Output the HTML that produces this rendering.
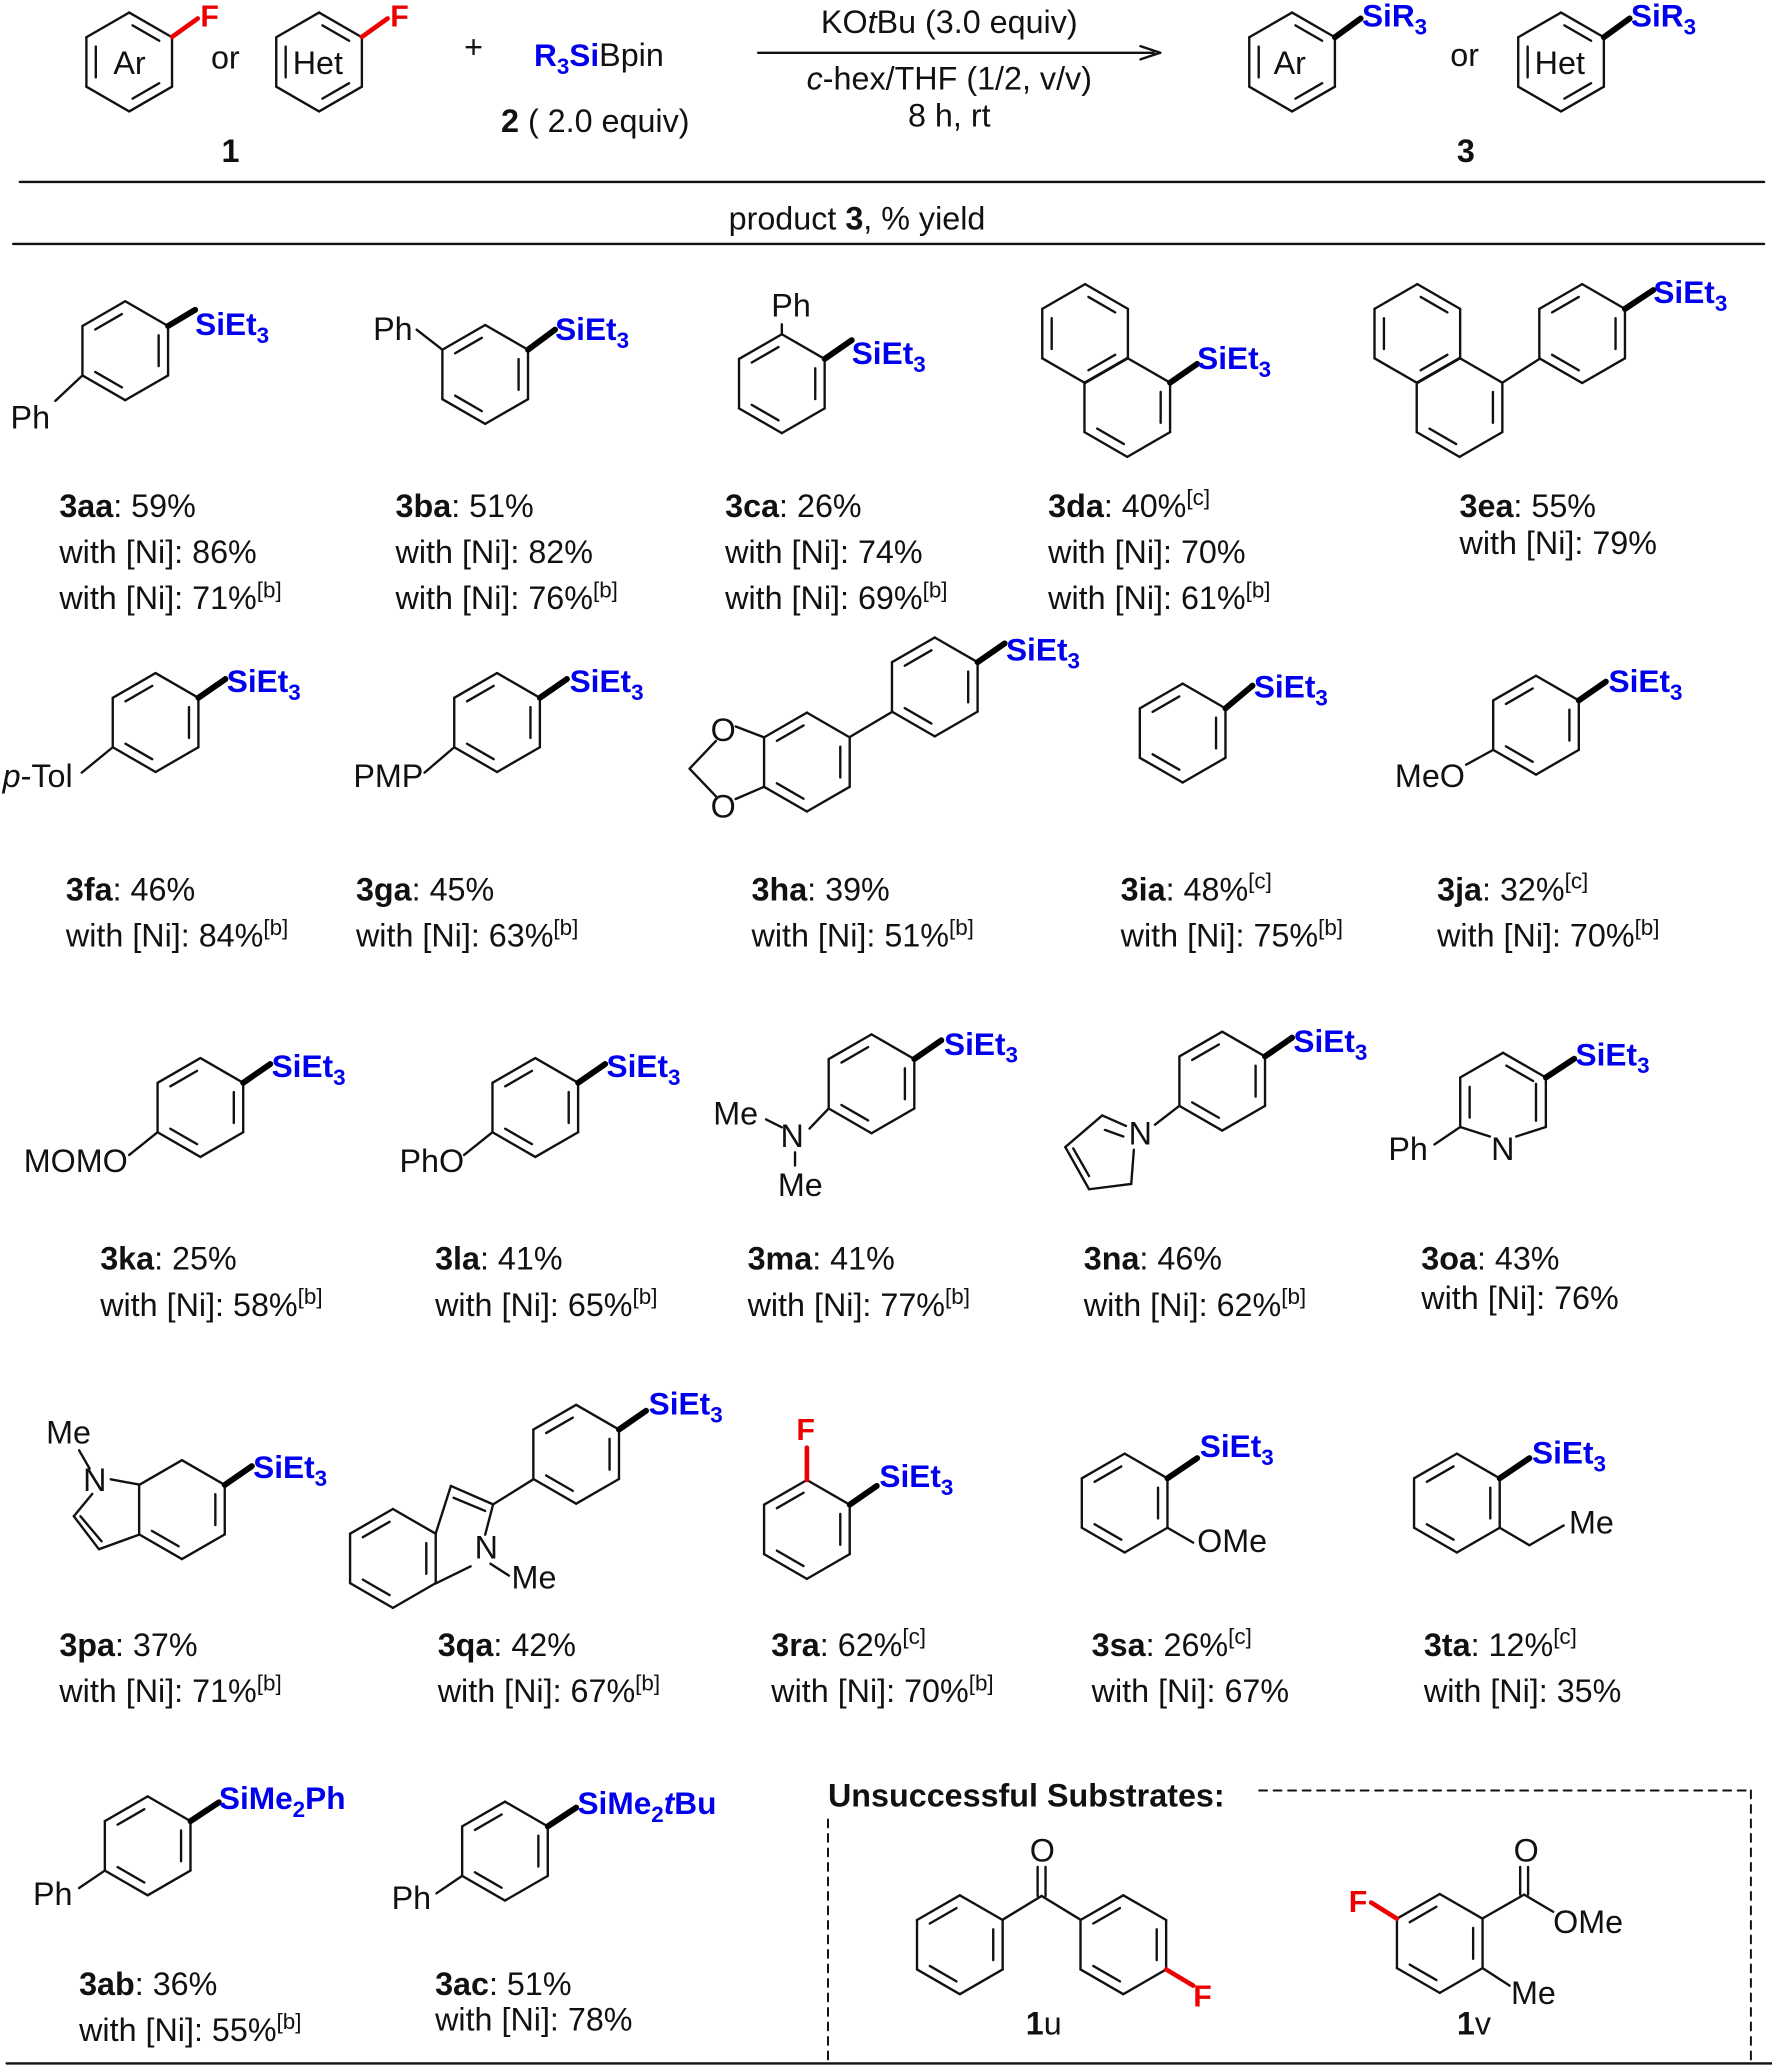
<!DOCTYPE html>
<html><head><meta charset="utf-8"><style>
html,body{margin:0;padding:0;background:#fff}
svg{display:block}
text{font-family:"Liberation Sans",Arial,sans-serif;font-size:24.5px;fill:#111}
.b{font-weight:bold}
.si{fill:#0000ee;font-weight:bold;font-size:24px}
.f{fill:#e00;font-weight:bold;font-size:23px}
.s{font-size:17px}
</style></head><body>
<svg id="svg" width="1772" height="2070" viewBox="0 0 1344 1570" xmlns="http://www.w3.org/2000/svg">
<g id="g" stroke="#111" stroke-width="1.8" fill="none" stroke-linecap="round"></g>
<!-- header -->
<text x="86" y="56">Ar</text>
<text x="160" y="52">or</text>
<text x="222" y="56">Het</text>
<text x="152" y="20" class="f">F</text>
<text x="296" y="20" class="f">F</text>
<text x="352" y="44">+</text>
<text x="405" y="50"><tspan class="si" style="font-size:24px">R<tspan dy="6" class="s">3</tspan><tspan dy="-6">Si</tspan></tspan>Bpin</text>
<text x="168" y="123" class="b">1</text>
<text x="380" y="100"><tspan class="b">2</tspan> ( 2.0 equiv)</text>
<text x="720" y="25" text-anchor="middle">KO<tspan font-style="italic">t</tspan>Bu (3.0 equiv)</text>
<text x="720" y="68" text-anchor="middle"><tspan font-style="italic">c</tspan>-hex/THF (1/2, v/v)</text>
<text x="720" y="96" text-anchor="middle">8 h,  rt</text>
<text x="966" y="56">Ar</text>
<text x="1100" y="50">or</text>
<text x="1164" y="56">Het</text>
<text x="1033" y="20" class="si">SiR<tspan dy="6" class="s">3</tspan></text>
<text x="1237" y="20" class="si">SiR<tspan dy="6" class="s">3</tspan></text>
<text x="1105" y="123" class="b">3</text>
<text x="650" y="174" text-anchor="middle">product <tspan class="b">3</tspan>, % yield</text>

<!-- row1 -->
<text x="148" y="254" class="si">SiEt<tspan dy="6" class="s">3</tspan></text>
<text x="8" y="325">Ph</text>
<text x="45" y="392"><tspan class="b">3aa</tspan>: 59%</text>
<text x="45" y="427">with [Ni]: 86%</text>
<text x="45" y="462">with [Ni]: 71%<tspan dy="-9" class="s">[b]</tspan></text>

<text x="421" y="258" class="si">SiEt<tspan dy="6" class="s">3</tspan></text>
<text x="283" y="258">Ph</text>
<text x="300" y="392"><tspan class="b">3ba</tspan>: 51%</text>
<text x="300" y="427">with [Ni]: 82%</text>
<text x="300" y="462">with [Ni]: 76%<tspan dy="-9" class="s">[b]</tspan></text>

<text x="585" y="240">Ph</text>
<text x="646" y="276" class="si">SiEt<tspan dy="6" class="s">3</tspan></text>
<text x="550" y="392"><tspan class="b">3ca</tspan>: 26%</text>
<text x="550" y="427">with [Ni]: 74%</text>
<text x="550" y="462">with [Ni]: 69%<tspan dy="-9" class="s">[b]</tspan></text>

<text x="908" y="280" class="si">SiEt<tspan dy="6" class="s">3</tspan></text>
<text x="795" y="392"><tspan class="b">3da</tspan>: 40%<tspan dy="-9" class="s">[c]</tspan></text>
<text x="795" y="427">with [Ni]: 70%</text>
<text x="795" y="462">with [Ni]: 61%<tspan dy="-9" class="s">[b]</tspan></text>

<text x="1254" y="230" class="si">SiEt<tspan dy="6" class="s">3</tspan></text>
<text x="1107" y="392"><tspan class="b">3ea</tspan>: 55%</text>
<text x="1107" y="420">with [Ni]: 79%</text>

<!-- row2 -->
<text x="172" y="525" class="si">SiEt<tspan dy="6" class="s">3</tspan></text>
<text x="2" y="597"><tspan font-style="italic">p</tspan>-Tol</text>
<text x="50" y="683"><tspan class="b">3fa</tspan>: 46%</text>
<text x="50" y="718">with [Ni]: 84%<tspan dy="-9" class="s">[b]</tspan></text>

<text x="432" y="525" class="si">SiEt<tspan dy="6" class="s">3</tspan></text>
<text x="268" y="597">PMP</text>
<text x="270" y="683"><tspan class="b">3ga</tspan>: 45%</text>
<text x="270" y="718">with [Ni]: 63%<tspan dy="-9" class="s">[b]</tspan></text>

<text x="763" y="501" class="si">SiEt<tspan dy="6" class="s">3</tspan></text>
<text x="539" y="562">O</text>
<text x="539" y="620">O</text>
<text x="570" y="683"><tspan class="b">3ha</tspan>: 39%</text>
<text x="570" y="718">with [Ni]: 51%<tspan dy="-9" class="s">[b]</tspan></text>

<text x="951" y="529" class="si">SiEt<tspan dy="6" class="s">3</tspan></text>
<text x="850" y="683"><tspan class="b">3ia</tspan>: 48%<tspan dy="-9" class="s">[c]</tspan></text>
<text x="850" y="718">with [Ni]: 75%<tspan dy="-9" class="s">[b]</tspan></text>

<text x="1220" y="525" class="si">SiEt<tspan dy="6" class="s">3</tspan></text>
<text x="1058" y="597">MeO</text>
<text x="1090" y="683"><tspan class="b">3ja</tspan>: 32%<tspan dy="-9" class="s">[c]</tspan></text>
<text x="1090" y="718">with [Ni]: 70%<tspan dy="-9" class="s">[b]</tspan></text>

<!-- row3 -->
<text x="206" y="817" class="si">SiEt<tspan dy="6" class="s">3</tspan></text>
<text x="18" y="889">MOMO</text>
<text x="76" y="963"><tspan class="b">3ka</tspan>: 25%</text>
<text x="76" y="998">with [Ni]: 58%<tspan dy="-9" class="s">[b]</tspan></text>

<text x="460" y="817" class="si">SiEt<tspan dy="6" class="s">3</tspan></text>
<text x="303" y="889">PhO</text>
<text x="330" y="963"><tspan class="b">3la</tspan>: 41%</text>
<text x="330" y="998">with [Ni]: 65%<tspan dy="-9" class="s">[b]</tspan></text>

<text x="716" y="800" class="si">SiEt<tspan dy="6" class="s">3</tspan></text>
<text x="541" y="853">Me</text>
<text x="592" y="870">N</text>
<text x="590" y="907">Me</text>
<text x="567" y="963"><tspan class="b">3ma</tspan>: 41%</text>
<text x="567" y="998">with [Ni]: 77%<tspan dy="-9" class="s">[b]</tspan></text>

<text x="981" y="798" class="si">SiEt<tspan dy="6" class="s">3</tspan></text>
<text x="856" y="868">N</text>
<text x="822" y="963"><tspan class="b">3na</tspan>: 46%</text>
<text x="822" y="998">with [Ni]: 62%<tspan dy="-9" class="s">[b]</tspan></text>

<text x="1195" y="808" class="si">SiEt<tspan dy="6" class="s">3</tspan></text>
<text x="1131" y="880">N</text>
<text x="1053" y="880">Ph</text>
<text x="1078" y="963"><tspan class="b">3oa</tspan>: 43%</text>
<text x="1078" y="993">with [Ni]: 76%</text>

<!-- row4 -->
<text x="35" y="1095">Me</text>
<text x="63" y="1131">N</text>
<text x="192" y="1121" class="si">SiEt<tspan dy="6" class="s">3</tspan></text>
<text x="45" y="1256"><tspan class="b">3pa</tspan>: 37%</text>
<text x="45" y="1291">with [Ni]: 71%<tspan dy="-9" class="s">[b]</tspan></text>

<text x="360" y="1182">N</text>
<text x="388" y="1205">Me</text>
<text x="492" y="1073" class="si">SiEt<tspan dy="6" class="s">3</tspan></text>
<text x="332" y="1256"><tspan class="b">3qa</tspan>: 42%</text>
<text x="332" y="1291">with [Ni]: 67%<tspan dy="-9" class="s">[b]</tspan></text>

<text x="604" y="1092" class="f">F</text>
<text x="667" y="1128" class="si">SiEt<tspan dy="6" class="s">3</tspan></text>
<text x="585" y="1256"><tspan class="b">3ra</tspan>: 62%<tspan dy="-9" class="s">[c]</tspan></text>
<text x="585" y="1291">with [Ni]: 70%<tspan dy="-9" class="s">[b]</tspan></text>

<text x="910" y="1105" class="si">SiEt<tspan dy="6" class="s">3</tspan></text>
<text x="908" y="1177">OMe</text>
<text x="828" y="1256"><tspan class="b">3sa</tspan>: 26%<tspan dy="-9" class="s">[c]</tspan></text>
<text x="828" y="1291">with [Ni]: 67%</text>

<text x="1162" y="1110" class="si">SiEt<tspan dy="6" class="s">3</tspan></text>
<text x="1190" y="1163">Me</text>
<text x="1080" y="1256"><tspan class="b">3ta</tspan>: 12%<tspan dy="-9" class="s">[c]</tspan></text>
<text x="1080" y="1291">with [Ni]: 35%</text>

<!-- row5 -->
<text x="166" y="1372" class="si">SiMe<tspan dy="6" class="s">2</tspan><tspan dy="-6">Ph</tspan></text>
<text x="25" y="1445">Ph</text>
<text x="60" y="1513"><tspan class="b">3ab</tspan>: 36%</text>
<text x="60" y="1548">with [Ni]: 55%<tspan dy="-9" class="s">[b]</tspan></text>

<text x="438" y="1376" class="si">SiMe<tspan dy="6" class="s">2</tspan><tspan dy="-6" font-style="italic">t</tspan>Bu</text>
<text x="297" y="1448">Ph</text>
<text x="330" y="1513"><tspan class="b">3ac</tspan>: 51%</text>
<text x="330" y="1540">with [Ni]: 78%</text>

<text x="628" y="1370" class="b">Unsuccessful Substrates:</text>
<text x="781" y="1412">O</text>
<text x="905" y="1522" class="f">F</text>
<text x="778" y="1543"><tspan class="b">1</tspan>u</text>
<text x="1148" y="1412">O</text>
<text x="1178" y="1466">OMe</text>
<text x="1146" y="1520">Me</text>
<text x="1023" y="1450" class="f">F</text>
<text x="1105" y="1543"><tspan class="b">1</tspan>v</text>
</svg>
<script>
var g=document.getElementById('g'),NS='http://www.w3.org/2000/svg',R=37.5;
function L(x1,y1,x2,y2,c,w,d){var e=document.createElementNS(NS,'line');e.setAttribute('x1',x1);e.setAttribute('y1',y1);e.setAttribute('x2',x2);e.setAttribute('y2',y2);if(c)e.setAttribute('stroke',c);if(w)e.setAttribute('stroke-width',w);if(d)e.setAttribute('stroke-dasharray',d);g.appendChild(e);}
function V(cx,cy,i){var a=(-90+60*i)*Math.PI/180;return [cx+R*Math.cos(a),cy+R*Math.sin(a)];}
function ring(cx,cy,dbl,skip){dbl=dbl||[1,3,5];skip=skip||[];
 for(var i=0;i<6;i++){if(skip.indexOf(i)>=0)continue;var a=V(cx,cy,i),b=V(cx,cy,(i+1)%6);L(a[0],a[1],b[0],b[1]);}
 dbl.forEach(function(i){var a=V(cx,cy,i),b=V(cx,cy,(i+1)%6);var k=0.78;
  var ax=cx+(a[0]-cx)*k,ay=cy+(a[1]-cy)*k,bx=cx+(b[0]-cx)*k,by=cy+(b[1]-cy)*k;
  var mx=(ax+bx)/2,my=(ay+by)/2;var s=0.8;L(mx+(ax-mx)*s,my+(ay-my)*s,mx+(bx-mx)*s,my+(by-my)*s);});}
function si(cx,cy,i,x,y){var a=V(cx,cy,i);L(a[0],a[1],x,y,'#000',4.5);}
function sub(cx,cy,i,x,y){var a=V(cx,cy,i);L(a[0],a[1],x,y);}
function poly(p,c){for(var i=0;i<p.length-1;i++)L(p[i][0],p[i][1],p[i+1][0],p[i+1][1],c);}
// header
ring(98,47,[0,2,4]);L(130.5,28,150,14,'#e00',3.5);
ring(242,47,[0,2,4]);L(274.5,28,294,14,'#e00',3.5);
L(575,40,875,40);L(865,35,880,40);L(865,45,880,40);
ring(980,47,[0,2,4]);si(980,47,1,1032,14);
ring(1184,47,[0,2,4]);si(1184,47,1,1236,14);
L(15,138,1338,138);L(10,185,1338,185);L(5,1565,1344,1565);
// row1
ring(95,266);si(95,266,1,148,235);sub(95,266,4,42,304);
ring(368,284);si(368,284,1,421,250);sub(368,284,5,316,250);
ring(593,291);si(593,291,1,646,258);sub(593,291,0,593,246);
ring(823,253,[0,4,2]);ring(855,309,[1,3]);si(855,309,1,908,276);
ring(1075,253,[0,4,2]);ring(1107,309,[1,3]);sub(1107,309,1,1168,272);ring(1200,253);si(1200,253,1,1254,220);
// row2
ring(118,548);si(118,548,1,171,515);sub(118,548,4,62,586);
ring(377,548);si(377,548,1,430,515);sub(377,548,4,322,586);
ring(612,578);ring(709,521);L(644.5,559,676.5,540);si(709,521,1,762,488);
sub(612,578,5,558,551);sub(612,578,4,558,606);L(543,562,523,583);L(523,583,543,604);
ring(897,556);si(897,556,1,950,520);
ring(1165,550);si(1165,550,1,1218,517);sub(1165,550,4,1112,580);
// row3
ring(152,840);si(152,840,1,205,807);sub(152,840,4,98,876);
ring(406,840);si(406,840,1,459,807);sub(406,840,4,352,876);
ring(661,822);si(661,822,1,714,789);sub(661,822,4,614,856);L(581,849,593,855);L(603,874,603,884);
ring(927,820);si(927,820,1,980,787);sub(927,820,4,876,853);
poly([[860,872],[858,898],[826,902],[808,870],[836,846],[854,854]]);L(826,892,814,871);L(838,857,852,862);
ring(1140,836,[0,4],[2,3]);var a=V(1140,836,2);L(a[0],a[1],1150,862);a=V(1140,836,4);L(a[0],a[1],1130,862);
L(1165,822,1165,850);
si(1140,836,1,1194,803);sub(1140,836,4,1088,868);
// row4
ring(138,1145,[1,3]);si(138,1145,1,191,1112);
poly([[105.5,1126],[84,1122]]);poly([[70,1133],[56,1150],[75,1175],[105.5,1164]]);L(61,1150,77,1169);L(68,1114,60,1100);
ring(298,1182,[3,5,1]);poly([[330.5,1163],[342,1127],[374,1141],[368,1164]]);L(357,1188,330.5,1201);L(344,1136,368,1146);
L(374,1141,404.5,1122);ring(437,1103);si(437,1103,1,490,1070);L(372,1186,386,1195);
ring(612,1160);si(612,1160,1,665,1127);L(612,1122.5,612,1098,'#e00',3.5);
ring(853,1140);si(853,1140,1,908,1106);sub(853,1140,2,905,1170);
ring(1105,1140);si(1105,1140,1,1160,1106);sub(1105,1140,2,1160,1172);L(1160,1172,1186,1157);
// row5
ring(112,1400);si(112,1400,1,166,1367);sub(112,1400,4,60,1432);
ring(383,1404);si(383,1404,1,437,1371);sub(383,1404,4,331,1436);
L(955,1358,1328,1358,null,1.5,'6,5');L(1328,1358,1328,1565,null,1.5,'6,5');L(628,1380,628,1565,null,1.5,'6,5');
ring(728,1475);ring(852,1475);L(760.5,1456,790,1438);L(790,1438,819.5,1456);L(787,1438,787,1416);L(793,1438,793,1416);
a=V(852,1475,2);L(a[0],a[1],905,1506,'#e00',3.5);
ring(1092,1474);a=V(1092,1474,5);L(a[0],a[1],1040,1443,'#e00',3.5);
L(1124.5,1455,1156,1437);L(1153,1437,1153,1416);L(1159,1437,1159,1416);L(1156,1437,1178,1450);
sub(1092,1474,2,1145,1506);
</script>
</body></html>
